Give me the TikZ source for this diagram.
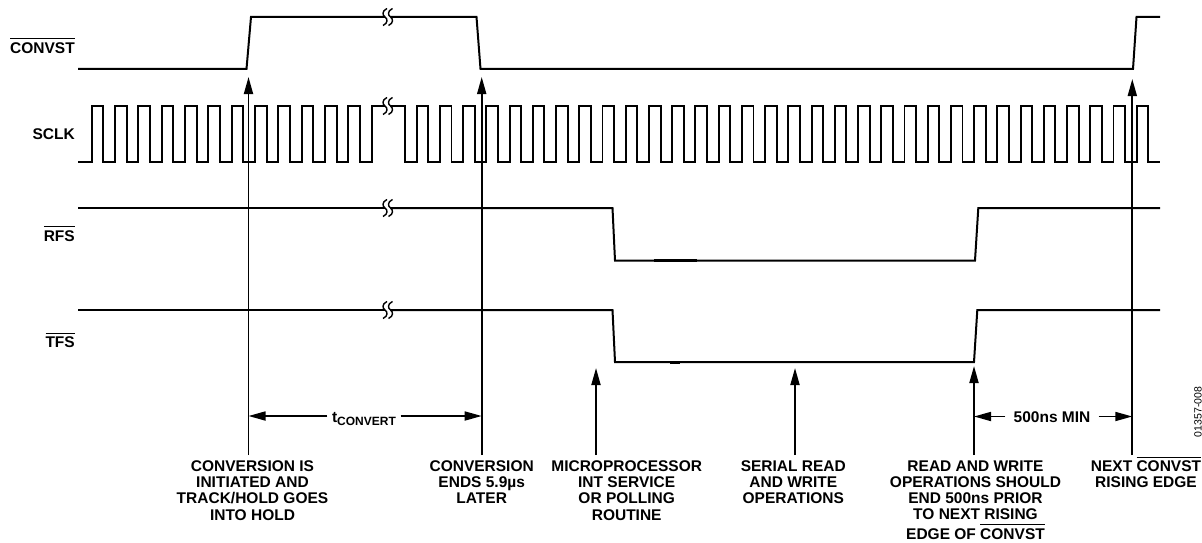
\documentclass[tikz,border=0pt]{standalone}
\usepackage{fontspec}
\setmainfont{Liberation Sans}
\usetikzlibrary{arrows.meta}
\newcommand\ovl[1]{\leavevmode\vbox{\hrule height 1.3pt\kern 3pt\hbox{#1}}}
\begin{document}
\begin{tikzpicture}[x=1pt,y=-1pt,
  sig/.style={line width=2pt, line join=miter},
  clk/.style={line width=1.9pt, line join=miter},
  arr/.style={line width=1.8pt, -{Triangle[length=17pt,width=9pt]}},
  dim/.style={line width=1.7pt, -{Triangle[length=17pt,width=9pt]}},
  lbl/.style={font=\fontsize{15.5}{16.2}\selectfont\bfseries, align=center, inner sep=0pt},
  brk/.pic={\draw[line width=1.4pt] (2,-8.5) .. controls (-3.5,-6) and (-2.5,-1.5) .. (0,0) .. controls (2.5,1.5) and (3.5,6) .. (-2,8.5);}
]
\useasboundingbox (0,0) rectangle (1202,543);
\fill[white] (0,0) rectangle (1202,543);

% signal names
\node[lbl, anchor=base east] (nconv) at (75,53.3) {\ovl{CONVST}};
\node[lbl, anchor=base east] (nsclk) at (75,139.3) {SCLK};
\node[lbl, anchor=base east] (nrfs) at (75,241) {\ovl{RFS}};
\node[lbl, anchor=base east] (ntfs) at (75,347.7) {\ovl{TFS}};

% CONVST
\draw[sig] (78,69) -- (246.5,69) -- (251,17) -- (385,17);
\draw[sig] (390.5,17) -- (476.5,17) -- (480.5,69) -- (1133,69) -- (1136.5,17) -- (1160,17);
\draw[line width=2.6pt] (1070,69) -- (1100,69);
\pic at (385,17) {brk};
\pic at (390.5,17) {brk};

% SCLK
\draw[clk] (78,162) -- (91.7,162)
  \foreach \k in {1,...,12}{ -- ++(0,-56) -- ++(11.67,0) -- ++(0,56) -- ++(11.67,0)}
  -- ++(0,-56) -- (385,106);
\draw[clk] (390.5,106) -- (405,106) -- (405,162) -- (416.7,162)
  \foreach \k in {1,...,31}{ -- ++(0,-56) -- ++(11.613,0) -- ++(0,56) -- ++(11.613,0)}
  -- ++(0,-56) -- ++(11.6,0) -- ++(0,56) -- (1160,162);
\pic at (385,106) {brk};
\pic at (390.5,106) {brk};

% RFS
\draw[sig] (78,208) -- (385,208);
\draw[sig] (390.5,208) -- (612.5,208) -- (615,260.5) -- (975,260.5) -- (978.3,208) -- (1160,208);
\draw[line width=2.6pt] (654,260.5) -- (697,260.5);
\pic at (385,208) {brk};
\pic at (390.5,208) {brk};

% TFS
\draw[sig] (78,310) -- (385,310);
\draw[sig] (390.5,310) -- (612.5,310) -- (615,362) -- (974,362) -- (977.3,310) -- (1160,310);
\draw[line width=2.4pt] (670,362.5) -- (680,362.5);
\pic at (385,310) {brk};
\pic at (390.5,310) {brk};

% vertical arrows
\coordinate (a1b) at (248.5,455); \coordinate (a1t) at (248.5,77);
\coordinate (a2b) at (481.7,455); \coordinate (a2t) at (481.7,77);
\coordinate (a3b) at (596,455);   \coordinate (a3t) at (596,368);
\coordinate (a4b) at (795,455);   \coordinate (a4t) at (795,368);
\coordinate (a5b) at (974,455);   \coordinate (a5t) at (974,366);
\coordinate (a6b) at (1132.3,455);\coordinate (a6t) at (1132.3,79);
\draw[arr] (a1b) -- (a1t);
\draw[arr] (a2b) -- (a2t);
\draw[arr] (a3b) -- (a3t);
\draw[arr] (a4b) -- (a4t);
\draw[arr] (a5b) -- (a5t);
\draw[arr] (a6b) -- (a6t);

% dimension arrows
\coordinate (d1l) at (248.5,416); \coordinate (d1r) at (481.7,416);
\node[lbl, anchor=base, inner xsep=4.5pt] (tc) at (364,422.3) {t\raisebox{-2.7pt}{\fontsize{12}{12}\selectfont CONVERT}};
\draw[dim] (tc.west |- d1l) -- (d1l);
\draw[dim] (tc.east |- d1r) -- (d1r);

\coordinate (d2l) at (974,416.5); \coordinate (d2r) at (1132.3,416.5);
\node[lbl, anchor=base, inner xsep=8pt] (mn) at (1052,422.3) {500ns MIN};
\draw[dim] (mn.west |- d2l) -- (d2l);
\draw[dim] (mn.east |- d2r) -- (d2r);

% bottom labels
\node[lbl, anchor=north] (L1) at (252.5,460.5) {CONVERSION IS\\INITIATED AND\\TRACK/HOLD GOES\\INTO HOLD};
\node[lbl, anchor=north] (L2) at (481.7,460.5) {CONVERSION\\ENDS 5.9µs\\LATER};
\node[lbl, anchor=north] (L3) at (626.7,460.5) {MICROPROCESSOR\\INT SERVICE\\OR POLLING\\ROUTINE};
\node[lbl, anchor=north] (L4) at (793.3,460.5) {SERIAL READ\\AND WRITE\\OPERATIONS};
\node[lbl, anchor=north] (L5) at (975.5,460.5) {READ AND WRITE\\OPERATIONS SHOULD\\END 500ns PRIOR\\TO NEXT RISING\\[3pt]EDGE OF \ovl{CONVST}};
\node[lbl, anchor=north] (L6) at (1146,456.3) {NEXT \ovl{CONVST}\\RISING EDGE};

% figure code
\node[font=\fontsize{10.5}{11}\selectfont, rotate=90, inner sep=0pt] (code) at (1198,412) {01357-008};
\end{tikzpicture}
\end{document}
